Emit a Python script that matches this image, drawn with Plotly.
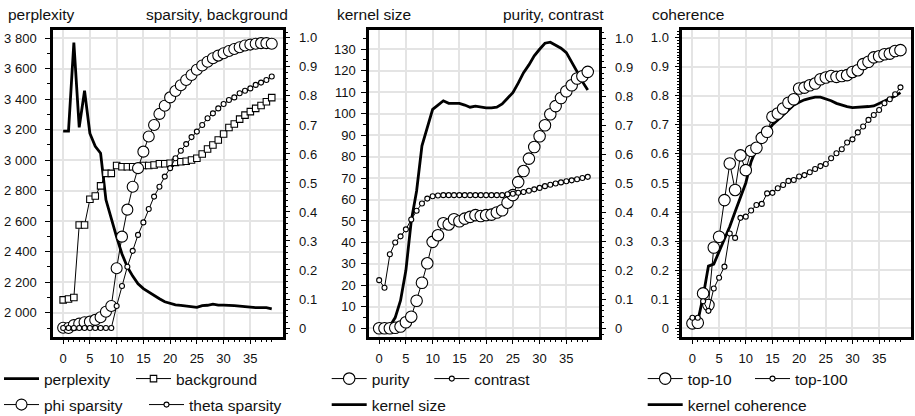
import plotly.graph_objects as go

W, H = 915, 416

# ---------------- data ----------------
iterations = list(range(40))

perplexity = [3190, 3190, 3770, 3215, 3455, 3175, 3090, 3045, 2740, 2610,
              2495, 2385, 2300, 2240, 2190, 2158, 2135, 2114, 2092, 2072,
              2062, 2052, 2048, 2045, 2041, 2035, 2047, 2049, 2056, 2050,
              2050, 2050, 2047, 2043, 2040, 2033, 2033, 2033, 2033, 2025]
background = [0.097, 0.100, 0.105, 0.355, 0.355, 0.444, 0.455, 0.490, 0.533, 0.533,
              0.560, 0.556, 0.556, 0.556, 0.556, 0.560, 0.560, 0.562, 0.566, 0.566,
              0.568, 0.571, 0.573, 0.575, 0.579, 0.585, 0.600, 0.617, 0.631, 0.648,
              0.669, 0.691, 0.703, 0.720, 0.734, 0.746, 0.757, 0.767, 0.780, 0.794]
phi_sparsity = [0.001, 0.000, 0.010, 0.015, 0.020, 0.022, 0.028, 0.037, 0.056, 0.076,
                0.206, 0.315, 0.408, 0.487, 0.551, 0.608, 0.660, 0.700, 0.738, 0.766,
                0.795, 0.817, 0.837, 0.855, 0.872, 0.890, 0.905, 0.918, 0.930, 0.939,
                0.947, 0.955, 0.962, 0.968, 0.974, 0.977, 0.980, 0.982, 0.982, 0.980]
theta_sparsity = [0.0, 0.0, 0.0, 0.0, 0.0, 0.0, 0.0, 0.0, 0.0, 0.0,
                  0.076, 0.145, 0.211, 0.266, 0.321, 0.364, 0.410, 0.453, 0.487, 0.522,
                  0.551, 0.585, 0.611, 0.634, 0.658, 0.677, 0.700, 0.723, 0.740, 0.757,
                  0.772, 0.786, 0.795, 0.809, 0.818, 0.826, 0.838, 0.846, 0.855, 0.867]

kernel_size = [0, 0, 1, 5, 13, 27, 50, 64, 85, 94,
               102, 104, 106, 104.8, 104.8, 104.8, 104, 103, 103.5, 103,
               102.7, 102.7, 103, 104.5, 107.2, 109.8, 114.2, 119.1, 122.7, 126.9,
               130, 132.8, 133.3, 132, 130.5, 128.4, 124.2, 119.6, 114.9, 111]
purity = [0.0, 0.0, 0.0, 0.002, 0.006, 0.021, 0.040, 0.095, 0.157, 0.224,
          0.298, 0.321, 0.362, 0.358, 0.376, 0.369, 0.378, 0.384, 0.390, 0.387,
          0.390, 0.392, 0.399, 0.407, 0.433, 0.459, 0.504, 0.542, 0.585, 0.625,
          0.662, 0.700, 0.738, 0.766, 0.794, 0.817, 0.838, 0.861, 0.869, 0.884]
contrast = [0.166, 0.140, 0.255, 0.296, 0.317, 0.341, 0.375, 0.405, 0.430, 0.447,
            0.455, 0.458, 0.459, 0.459, 0.459, 0.459, 0.459, 0.459, 0.459, 0.459,
            0.459, 0.459, 0.459, 0.459, 0.462, 0.464, 0.467, 0.470, 0.474, 0.479,
            0.484, 0.490, 0.495, 0.499, 0.503, 0.507, 0.510, 0.514, 0.518, 0.522]

top10 = [0.017, 0.019, 0.120, 0.080, 0.278, 0.315, 0.441, 0.567, 0.476, 0.595,
         0.544, 0.611, 0.621, 0.655, 0.676, 0.728, 0.739, 0.756, 0.776, 0.788,
         0.825, 0.828, 0.836, 0.842, 0.857, 0.863, 0.868, 0.865, 0.868, 0.871,
         0.882, 0.888, 0.909, 0.917, 0.932, 0.936, 0.943, 0.945, 0.954, 0.957]
top100 = [0.036, 0.036, 0.093, 0.060, 0.137, 0.174, 0.212, 0.326, 0.311, 0.380,
          0.384, 0.405, 0.424, 0.428, 0.464, 0.466, 0.482, 0.493, 0.507, 0.510,
          0.522, 0.527, 0.537, 0.548, 0.558, 0.565, 0.585, 0.602, 0.616, 0.639,
          0.650, 0.674, 0.694, 0.717, 0.734, 0.751, 0.774, 0.788, 0.805, 0.829]
kernel_coherence = [0.020, 0.023, 0.109, 0.214, 0.221, 0.264, 0.304, 0.350, 0.401, 0.453,
                    0.500, 0.573, 0.619, 0.654, 0.677, 0.700, 0.717, 0.734, 0.751, 0.768,
                    0.778, 0.786, 0.791, 0.795, 0.795, 0.789, 0.783, 0.774, 0.768, 0.763,
                    0.759, 0.760, 0.760, 0.763, 0.765, 0.774, 0.783, 0.791, 0.799, 0.811]

x_tick_vals = [0, 5, 10, 15, 20, 25, 30, 35]
x_minor_vals = list(range(0, 40))
frac_tick_vals = [0, 0.1, 0.2, 0.3, 0.4, 0.5, 0.6, 0.7, 0.8, 0.9, 1.0]
frac_tick_text = ["0", "0.1", "0.2", "0.3", "0.4", "0.5", "0.6", "0.7", "0.8", "0.9", "1.0"]
perp_tick_vals = [2000, 2200, 2400, 2600, 2800, 3000, 3200, 3400, 3600, 3800]
kernel_tick_vals = [0, 10, 20, 30, 40, 50, 60, 70, 80, 90, 100, 110, 120, 130]

# ---------------- style ----------------
FONT = "Liberation Sans, Arial, Helvetica, sans-serif"
INK = "#111111"
GRID = "#e4e4e4"


def px_x(p):
    return p / W


def px_y(p):
    return 1 - p / H


Y_TOP, Y_BOT = 29.5, 337.0
panels_px = [(53.0, 282.7), (369.0, 598.7), (682.3, 911.4)]

x_range = [-1.9, 41.05]

axis_common = dict(
    showline=True, linecolor="black", linewidth=2.5,
    ticks="outside", tickcolor="black", tickwidth=1,
    tickfont=dict(family=FONT, size=13, color=INK),
    zeroline=False, fixedrange=True, automargin=False,
)


def xaxis(i):
    l, r = panels_px[i]
    return dict(axis_common, domain=[px_x(l), px_x(r)], range=x_range,
                anchor="y" if i == 0 else ("y3" if i == 1 else "y5"),
                mirror=True, tickmode="array", tickvals=x_tick_vals, ticklen=4,
                ticklabelstandoff=4,
                showgrid=True, gridcolor=GRID, gridwidth=1.5,
                minor=dict(tickmode="array", tickvals=x_minor_vals, ticks="outside",
                           ticklen=2, tickcolor="black", showgrid=False))


ydom = [px_y(Y_BOT), px_y(Y_TOP)]

layout = dict(
    width=W, height=H, margin=dict(l=0, r=0, t=0, b=0, autoexpand=False),
    paper_bgcolor="white", plot_bgcolor="white",
    separators=". ",
    font=dict(family=FONT, size=15.5, color=INK),
    xaxis=xaxis(0), xaxis2=xaxis(1), xaxis3=xaxis(2),
    yaxis=dict(axis_common, domain=ydom, anchor="x", range=[1841, 3856],
               mirror=True, tickmode="array", tickvals=perp_tick_vals,
               separatethousands=True, ticklen=5, ticklabelstandoff=6,
               showgrid=True, gridcolor=GRID, gridwidth=1.5,
               minor=dict(ticks="outside", ticklen=3, dtick=100, tick0=0,
                          tickcolor="black", showgrid=False)),
    yaxis2=dict(axis_common, domain=ydom, anchor="x", overlaying="y", side="right",
                range=[-0.031, 1.029], tickmode="array", tickvals=frac_tick_vals,
                ticktext=frac_tick_text, ticklen=5, ticklabelstandoff=6, showgrid=False,
                minor=dict(ticks="outside", ticklen=3, dtick=0.02, tick0=0,
                           tickcolor="black", showgrid=False)),
    yaxis3=dict(axis_common, domain=ydom, anchor="x2", range=[-4.05, 139.2],
                mirror=True, tickmode="array", tickvals=kernel_tick_vals, ticklen=5,
                ticklabelstandoff=3,
                showgrid=True, gridcolor=GRID, gridwidth=1.5,
                minor=dict(ticks="outside", ticklen=3, dtick=5, tick0=0,
                           tickcolor="black", showgrid=False)),
    yaxis4=dict(axis_common, domain=ydom, anchor="x2", overlaying="y3", side="right",
                range=[-0.03, 1.03], tickmode="array", tickvals=frac_tick_vals,
                ticktext=frac_tick_text, ticklen=5, ticklabelstandoff=6, showgrid=False,
                minor=dict(ticks="outside", ticklen=3, dtick=0.02, tick0=0,
                           tickcolor="black", showgrid=False)),
    yaxis5=dict(axis_common, domain=ydom, anchor="x3", range=[-0.03, 1.028],
                mirror=True, tickmode="array", tickvals=frac_tick_vals,
                ticktext=frac_tick_text, ticklen=5, ticklabelstandoff=3,
                showgrid=True, gridcolor=GRID, gridwidth=1.5,
                minor=dict(ticks="outside", ticklen=2.5, dtick=0.01, tick0=0,
                           tickcolor="black", showgrid=False)),
)


def legend_box(x_px, y_px, entry_w):
    return dict(orientation="h", x=px_x(x_px), y=px_y(y_px), xanchor="left",
                yanchor="middle", bgcolor="rgba(0,0,0,0)", borderwidth=0,
                font=dict(family=FONT, size=15.5, color=INK), itemwidth=35,
                entrywidth=entry_w, entrywidthmode="pixels", tracegroupgap=0,
                itemclick=False, itemdoubleclick=False)


ROW1, ROW2 = 379, 405
layout.update(
    legend=legend_box(-1, ROW1, 82),
    legend2=legend_box(-1, ROW2, 95),
    legend3=legend_box(326.7, ROW1, 52.6),
    legend4=legend_box(326.7, ROW2, 120),
    legend5=legend_box(642.7, ROW1, 57.3),
    legend6=legend_box(642.7, ROW2, 150),
)

fig = go.Figure(layout=layout)


def thick(name, y, xa, ya, leg):
    fig.add_trace(go.Scatter(x=iterations, y=y, name=name, mode="lines",
                             line=dict(color="black", width=2.8),
                             xaxis=xa, yaxis=ya, legend=leg, hoverinfo="skip"))


def marked(name, y, xa, ya, leg, symbol, size):
    fig.add_trace(go.Scatter(x=iterations, y=y, name=name, mode="lines+markers",
                             line=dict(color="black", width=1),
                             marker=dict(symbol=symbol, size=size, color="white",
                                         line=dict(color="black", width=1.1)),
                             xaxis=xa, yaxis=ya, legend=leg, hoverinfo="skip"))


# panel 1
thick("perplexity", perplexity, "x", "y", "legend")
marked("background", background, "x", "y2", "legend", "square", 6.5)
marked("phi sparsity", phi_sparsity, "x", "y2", "legend2", "circle", 11)
marked("theta sparsity", theta_sparsity, "x", "y2", "legend2", "circle", 5)

# panel 2
thick("kernel size", kernel_size, "x2", "y3", "legend4")
marked("purity", purity, "x2", "y4", "legend3", "circle", 11.5)
marked("contrast", contrast, "x2", "y4", "legend3", "circle", 5)

# panel 3
thick("kernel coherence", kernel_coherence, "x3", "y5", "legend6")
marked("top-10", top10, "x3", "y5", "legend5", "circle", 11.5)
marked("top-100", top100, "x3", "y5", "legend5", "circle", 5)

# panel titles
titles = [("perplexity", 6, "left"), ("sparsity, background", 290, "right"),
          ("kernel size", 335, "left"), ("purity, contrast", 606, "right"),
          ("coherence", 650, "left")]
for text, xp, anchor in titles:
    fig.add_annotation(text=text, x=px_x(xp), y=px_y(15), xref="paper", yref="paper",
                       xanchor=anchor, yanchor="middle", showarrow=False,
                       font=dict(family=FONT, size=15.5, color=INK))

fig.write_html("out.html")
